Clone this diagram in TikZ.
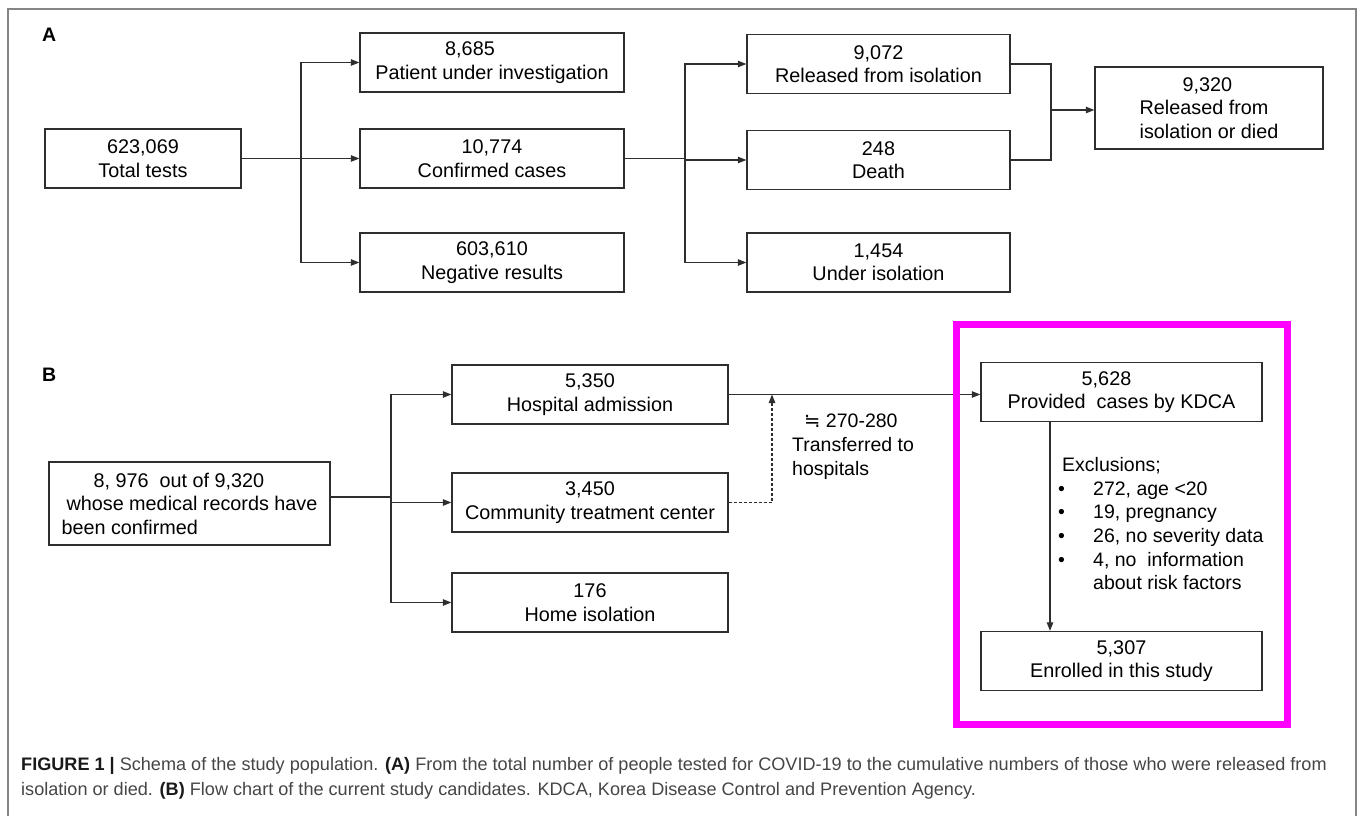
\documentclass[tikz,border=0pt]{standalone}
\usepackage{fontspec}
\setmainfont{Liberation Sans}
\newfontfamily\approxfont{DejaVu Sans}
\usetikzlibrary{arrows.meta}
\definecolor{framegray}{HTML}{858585}
\definecolor{boxgray}{HTML}{2E2E2E}
\definecolor{capgray}{HTML}{454545}
\definecolor{kdcamagenta}{HTML}{FF00FF}

\begin{document}
\begin{tikzpicture}[x=1pt,y=-1pt,
    flowbox/.style={draw=boxgray,line width=1.3pt,minimum height=59pt,inner sep=2pt,align=center,font=\fontsize{19.8}{23.5}\selectfont},
    link/.style={draw=boxgray,line width=1.1pt},
    linkarr/.style={link,-{Triangle[length=8.5pt,width=6.5pt]}},
    panel/.style={anchor=north west,inner sep=0pt,font=\fontsize{19.5}{23.5}\selectfont\bfseries},
    note/.style={anchor=north west,inner sep=0pt,align=left,font=\fontsize{19.5}{23.7}\selectfont}]
    \useasboundingbox (0,0) rectangle (1358,816);
    \draw[framegray,line width=2pt] (7.5,816) -- (7.5,9) -- (1355.5,9) -- (1355.5,816);

    \node[panel] (lblA) at (42,28) {A};
    \node[flowbox,minimum width=196pt] (tot) at (143,158.5) {623,069\\Total tests};
    \node[flowbox,minimum width=264pt] (pui) at (492,62.5) {8,685\hspace*{44pt}\\Patient under investigation};
    \node[flowbox,minimum width=264pt] (conf) at (492,158.5) {10,774\\Confirmed cases};
    \node[flowbox,minimum width=264pt] (neg) at (492,262.5) {603,610\\Negative results};
    \node[flowbox,minimum width=263pt] (rel) at (878.5,64) {9,072\\Released from isolation};
    \node[flowbox,minimum width=263pt] (death) at (878.5,160) {248\\Death};
    \node[flowbox,minimum width=263pt] (iso) at (878.5,262.5) {1,454\\Under isolation};
    \node[flowbox,minimum width=228pt,minimum height=82pt,align=left] (fin) at (1209,108) {\hspace*{43pt}9,320\\Released from\\isolation or died};

    \coordinate (spA) at (301,158.5);
    \coordinate (spB) at (685,158.5);
    \coordinate (mg) at (1051,110);
    \draw[link] (tot.east) -- (spA);
    \draw[linkarr] (spA) |- (pui.west);
    \draw[linkarr] (spA) -- (conf.west);
    \draw[linkarr] (spA) |- (neg.west);
    \draw[link] (conf.east) -- (spB);
    \draw[linkarr] (spB) |- (rel.west);
    \draw[linkarr] (spB) |- (death.west);
    \draw[linkarr] (spB) |- (iso.west);
    \draw[link] (rel.east) -| (mg);
    \draw[link] (death.east) -| (mg);
    \draw[linkarr] (mg) -- (mg -| fin.west);

    \node[panel] (lblB) at (42,368) {B};
    \node[flowbox,minimum width=281pt,minimum height=83pt,align=left] (src) at (189.5,503.5) {\hspace*{32pt}8, 976\ \ out of 9,320\\\hspace*{5pt}whose medical records have\\been confirmed};
    \node[flowbox,minimum width=276pt] (hosp) at (590,394.5) {5,350\\Hospital admission};
    \node[flowbox,minimum width=276pt] (ctc) at (590,502.5) {3,450\\Community treatment center};
    \node[flowbox,minimum width=276pt] (home) at (590,602.5) {176\\Home isolation};
    \node[flowbox,minimum width=281pt] (kdca) at (1121.5,392) {5,628\hspace*{30pt}\\Provided\ \ cases by KDCA};
    \node[flowbox,minimum width=281pt] (enr) at (1121.5,661) {5,307\\Enrolled in this study};
    \node[note] (trans) at (792,414) {\hspace*{12pt}{\approxfont ≒} 270-280\\Transferred to\\hospitals};
    \node[note] (excl) at (1062,457) {Exclusions;\\\hspace*{-4pt}\makebox[35pt][l]{\textbullet}272, age <20\\\hspace*{-4pt}\makebox[35pt][l]{\textbullet}19, pregnancy\\\hspace*{-4pt}\makebox[35pt][l]{\textbullet}26, no severity data\\\hspace*{-4pt}\makebox[35pt][l]{\textbullet}4, no\ \ information\\\hspace*{31pt}about risk factors};

    \coordinate (spC) at (391,497);
    \coordinate (tr) at (772,394.5);
    \coordinate (ex) at (1050,0);
    \draw[link] (src.east |- spC) -- (spC);
    \draw[linkarr] (spC) |- (hosp.west);
    \draw[linkarr] (spC) |- (ctc.west);
    \draw[linkarr] (spC) |- (home.west);
    \draw[linkarr] (hosp.east) -- (hosp.east -| kdca.west);
    \draw[linkarr,dash pattern=on 3pt off 2pt] (ctc.east) -| (tr);
    \draw[linkarr] (kdca.south -| ex) -- (enr.north -| ex);
    \draw[kdcamagenta,line width=7pt] (956,324) rectangle (1287,724);

    \node[anchor=north west,inner sep=0pt,align=left,text=capgray,font=\fontsize{18.1}{25}\selectfont] (cap) at (21,757) {{\color{black!90}\bfseries FIGURE 1 |} Schema of the study population. {\color{black!90}\bfseries (A)} From the total number of people tested for COVID-19 to the cumulative numbers of those who were released from\\isolation or died. {\color{black!90}\bfseries (B)} Flow chart of the current study candidates. KDCA, Korea Disease Control and Prevention Agency.};
\end{tikzpicture}
\end{document}
